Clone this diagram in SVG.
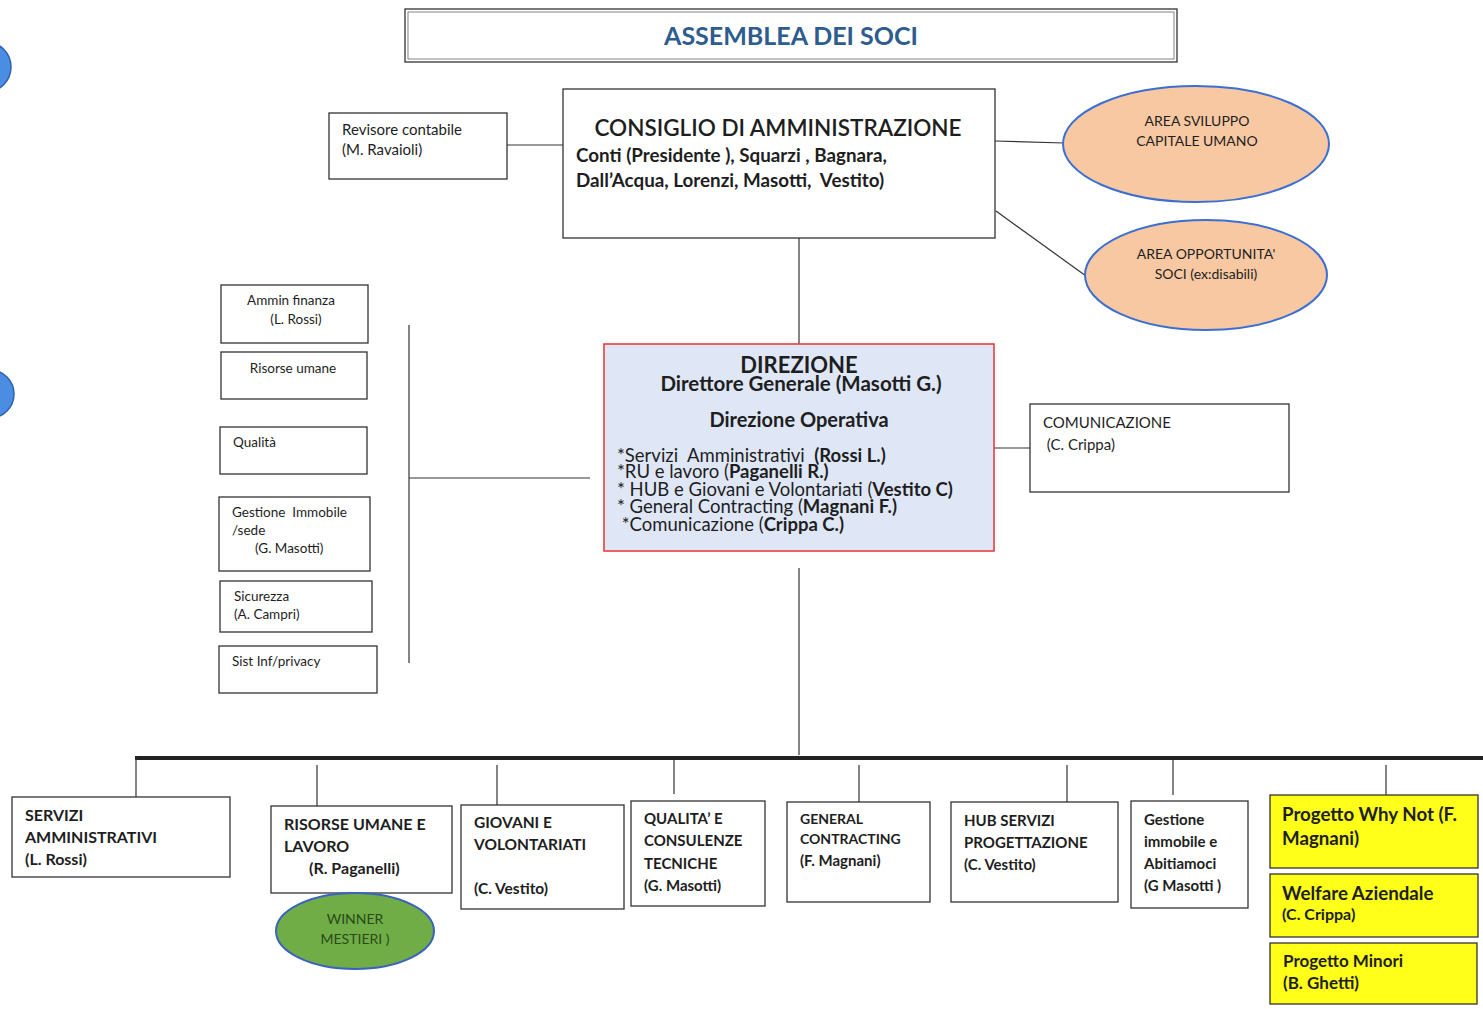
<svg xmlns="http://www.w3.org/2000/svg" width="1483" height="1009" viewBox="0 0 1483 1009">
<style>
text{font-family:Lato,"Open Sans","Liberation Sans",sans-serif;fill:#1e1e1e;white-space:pre}
.box{fill:#fff;stroke:#333;stroke-width:1.3}
.yel{fill:#ffff1a;stroke:#333;stroke-width:1.3}
.ln{stroke:#333;stroke-width:1.2;fill:none}
.s12{font-size:13.5px}
.s13{font-size:14px}
.s15{font-size:15px}
.s16{font-size:16px}
.b{font-weight:bold}
.peach{fill:#f7c8a2;stroke:#3b6fd4;stroke-width:2}
.dl{font-size:18.5px}
</style>
<rect width="1483" height="1009" fill="#fff"/>

<g id="connectors">
<line class="ln" x1="507" y1="145" x2="563" y2="145"/>
<line class="ln" x1="995" y1="141" x2="1064" y2="143"/>
<line class="ln" x1="996" y1="211" x2="1086" y2="276"/>
<line class="ln" x1="799" y1="238" x2="799" y2="344"/>
<line class="ln" x1="994" y1="448" x2="1030" y2="448"/>
<line class="ln" x1="409" y1="325" x2="409" y2="663"/>
<line class="ln" x1="409" y1="478" x2="590" y2="478"/>
<line class="ln" x1="799" y1="568" x2="799" y2="755"/>
<line x1="135" y1="758" x2="1483" y2="758" stroke="#222" stroke-width="4"/>
<line class="ln" x1="136" y1="758" x2="136" y2="797"/>
<line class="ln" x1="317" y1="765" x2="317" y2="806"/>
<line class="ln" x1="497" y1="765" x2="497" y2="805"/>
<line class="ln" x1="674" y1="760" x2="674" y2="794"/>
<line class="ln" x1="859" y1="765" x2="859" y2="802"/>
<line class="ln" x1="1067" y1="765" x2="1067" y2="802"/>
<line class="ln" x1="1173" y1="760" x2="1173" y2="795"/>
<line class="ln" x1="1386" y1="765" x2="1386" y2="795"/>
</g>

<g id="blue-circle-1"><circle cx="-14" cy="67" r="25" fill="#4a8de2" stroke="#2f62b0" stroke-width="1.5"/></g>
<g id="blue-circle-2"><circle cx="-10" cy="394" r="24" fill="#4a8de2" stroke="#2f62b0" stroke-width="1.5"/></g>

<g id="assemblea">
<rect x="405" y="9" width="772" height="53" fill="#fff" stroke="#333" stroke-width="1.3"/>
<rect x="408" y="12" width="766" height="47" fill="none" stroke="#666" stroke-width="0.8"/>
<text x="791" y="45" text-anchor="middle" font-size="25" font-weight="bold" style="fill:#2d5c8e">ASSEMBLEA DEI SOCI</text>
</g>

<g id="revisore">
<rect class="box" x="329" y="113" width="178" height="66"/>
<text x="342" y="135" font-size="15">Revisore contabile</text>
<text x="342" y="155" font-size="15">(M. Ravaioli)</text>
</g>

<g id="cda">
<rect class="box" x="563" y="89" width="432" height="149"/>
<text x="778" y="136" text-anchor="middle" font-size="22.5" font-weight="600">CONSIGLIO DI AMMINISTRAZIONE</text>
<text x="576" y="162" font-size="18.8" font-weight="bold">Conti (Presidente ), Squarzi , Bagnara,</text>
<text x="576" y="187" font-size="18.8" font-weight="bold">Dall’Acqua, Lorenzi, Masotti,  Vestito)</text>
</g>

<g id="area-sviluppo">
<ellipse class="peach" cx="1196" cy="144" rx="133" ry="58"/>
<text class="s13" x="1197" y="126" text-anchor="middle">AREA SVILUPPO</text>
<text class="s13" x="1197" y="146" text-anchor="middle">CAPITALE UMANO</text>
</g>

<g id="area-opportunita">
<ellipse class="peach" cx="1206" cy="275" rx="121" ry="55"/>
<text class="s13" x="1206" y="259" text-anchor="middle">AREA OPPORTUNITA'</text>
<text class="s13" x="1206" y="279" text-anchor="middle">SOCI (ex:disabili)</text>
</g>

<g id="ammin-finanza">
<rect class="box" x="221" y="285" width="147" height="58"/>
<text class="s12" x="291" y="305" text-anchor="middle">Ammin finanza</text>
<text class="s12" x="296" y="324" text-anchor="middle">(L. Rossi)</text>
</g>
<g id="risorse-umane">
<rect class="box" x="221" y="352" width="146" height="47"/>
<text class="s12" x="293" y="373" text-anchor="middle">Risorse umane</text>
</g>
<g id="qualita">
<rect class="box" x="220" y="427" width="147" height="47"/>
<text class="s12" x="233" y="447">Qualità</text>
</g>
<g id="gestione-immobile-sede">
<rect class="box" x="219" y="497" width="151" height="74"/>
<text class="s12" x="232" y="517">Gestione  Immobile</text>
<text class="s12" x="232" y="535">/sede</text>
<text class="s12" x="255" y="553">(G. Masotti)</text>
</g>
<g id="sicurezza">
<rect class="box" x="220" y="581" width="152" height="51"/>
<text class="s12" x="234" y="601">Sicurezza</text>
<text class="s12" x="234" y="619">(A. Campri)</text>
</g>
<g id="sist-inf">
<rect class="box" x="219" y="646" width="158" height="47"/>
<text class="s12" x="232" y="666">Sist Inf/privacy</text>
</g>

<g id="direzione">
<rect x="604" y="344" width="390" height="207" fill="#dfe7f7" stroke="#e8403a" stroke-width="1.6"/>
<text x="799" y="373" text-anchor="middle" font-size="22" font-weight="bold">DIREZIONE</text>
<text x="801" y="391" text-anchor="middle" font-size="20.5" font-weight="bold">Direttore Generale (Masotti G.)</text>
<text x="799" y="427" text-anchor="middle" font-size="20" font-weight="bold">Direzione Operativa</text>
<text class="dl" x="617" y="462">*Servizi  Amministrativi  <tspan font-weight="bold">(Rossi L.)</tspan></text>
<text class="dl" x="617" y="478">*RU e lavoro (<tspan font-weight="bold">Paganelli R.)</tspan></text>
<text class="dl" x="617" y="496">* HUB e Giovani e Volontariati (<tspan font-weight="bold">Vestito C)</tspan></text>
<text class="dl" x="617" y="513">* General Contracting (<tspan font-weight="bold">Magnani F.)</tspan></text>
<text class="dl" x="617" y="531"> *Comunicazione (<tspan font-weight="bold">Crippa C.)</tspan></text>
</g>

<g id="comunicazione">
<rect class="box" x="1030" y="404" width="259" height="88"/>
<text class="s15" x="1043" y="428">COMUNICAZIONE</text>
<text class="s15" x="1043" y="450"> (C. Crippa)</text>
</g>

<g id="servizi-amministrativi">
<rect class="box" x="12" y="797" width="218" height="80"/>
<text class="s16 b" x="25" y="821">SERVIZI</text>
<text class="s16 b" x="25" y="843">AMMINISTRATIVI</text>
<text class="s16 b" x="25" y="865">(L. Rossi)</text>
</g>
<g id="risorse-umane-lavoro">
<rect class="box" x="271" y="806" width="181" height="87"/>
<text class="s16 b" x="284" y="830">RISORSE UMANE E</text>
<text class="s16 b" x="284" y="852">LAVORO</text>
<text class="s16 b" x="309" y="874">(R. Paganelli)</text>
</g>
<g id="winner">
<ellipse cx="355" cy="931" rx="79" ry="38" fill="#70ad47" stroke="#3a62c0" stroke-width="2"/>
<text class="s13" x="355" y="924" text-anchor="middle" style="fill:#2a4a18">WINNER</text>
<text class="s13" x="355" y="944" text-anchor="middle" style="fill:#2a4a18">MESTIERI )</text>
</g>
<g id="giovani">
<rect class="box" x="461" y="805" width="163" height="104"/>
<text class="b" font-size="15.5" x="474" y="828">GIOVANI E</text>
<text class="b" font-size="15.5" x="474" y="850">VOLONTARIATI</text>
<text class="b" font-size="15.5" x="474" y="894">(C. Vestito)</text>
</g>
<g id="qualita-consulenze">
<rect class="box" x="631" y="801" width="134" height="105"/>
<text class="s15 b" x="644" y="824">QUALITA’ E</text>
<text class="s15 b" x="644" y="846">CONSULENZE</text>
<text class="s15 b" x="644" y="869">TECNICHE</text>
<text class="s15 b" x="644" y="891">(G. Masotti)</text>
</g>
<g id="general-contracting">
<rect class="box" x="787" y="802" width="143" height="100"/>
<text class="b" font-size="14" x="800" y="824">GENERAL</text>
<text class="b" font-size="14" x="800" y="844">CONTRACTING</text>
<text class="s15 b" x="800" y="866">(F. Magnani)</text>
</g>
<g id="hub-servizi">
<rect class="box" x="951" y="802" width="167" height="100"/>
<text class="s15 b" x="964" y="826">HUB SERVIZI</text>
<text class="s15 b" x="964" y="848">PROGETTAZIONE</text>
<text class="s15 b" x="964" y="870">(C. Vestito)</text>
</g>
<g id="gestione-abitiamoci">
<rect class="box" x="1131" y="801" width="117" height="107"/>
<text class="s15 b" x="1144" y="825">Gestione</text>
<text class="s15 b" x="1144" y="847">immobile e</text>
<text class="s15 b" x="1144" y="869">Abitiamoci</text>
<text class="s15 b" x="1144" y="891">(G Masotti )</text>
</g>
<g id="progetto-why-not">
<rect class="yel" x="1270" y="795" width="208" height="73"/>
<text class="b" font-size="18.7" x="1282" y="821">Progetto Why Not (F.</text>
<text class="b" font-size="18.7" x="1282" y="845">Magnani)</text>
</g>
<g id="welfare">
<rect class="yel" x="1270" y="874" width="208" height="63"/>
<text class="b" font-size="18.7" x="1282" y="900">Welfare Aziendale</text>
<text class="s16 b" x="1282" y="920">(C. Crippa)</text>
</g>
<g id="progetto-minori">
<rect class="yel" x="1270" y="943" width="207" height="61"/>
<text class="b" font-size="17" x="1283" y="967">Progetto Minori</text>
<text class="b" font-size="17" x="1283" y="989">(B. Ghetti)</text>
</g>
</svg>
